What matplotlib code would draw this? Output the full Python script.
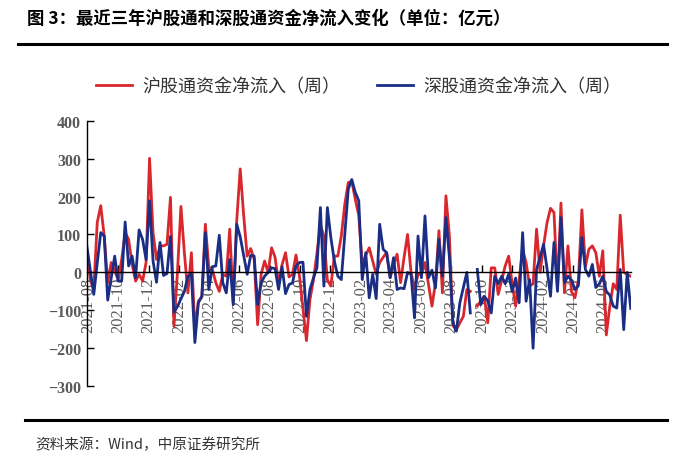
import numpy as np
import pandas as pd
import matplotlib
matplotlib.use("Agg")
import matplotlib.pyplot as plt
import matplotlib.dates as mdates
from matplotlib.lines import Line2D

plt.rcParams['font.family'] = ['Noto Sans CJK SC', 'DejaVu Sans']

# weekly net inflow, 100m yuan
start_date = '2021-07-30'
sh_flow = [60, -20, -45, 132, 176, 96, -27, 26, 4, -20,
           34, 105, 87, 21, -23, -5, -23, 26, 301, 105,
           34, 70, 70, 74, 198, -142, 0, 174, 50, -54,
           52, -150, -76, -65, 127, 12, 8, -27, -50, -5,
           -10, 114, -80, 136, 273, 150, 43, 63, 35, -138,
           -5, 30, 0, 65, 40, -30, 20, 52, -12, -5,
           46, -10, -94, -180, -72, -20, 50, 125, 96, -20,
           -36, 43, 43, 96, 180, 237, 240, 193, 150, 21,
           45, 65, 30, -5, 26, 40, 52, -14, 20, 48,
           -27, 40, 100, 0, -45, -5, -5, 26, -32, -89,
           -28, 110, -54, 202, 96, -140, -151, -133, -116, -45,
           -50, np.nan, -89, -75, -63, -133, 12, 12, -58, -20,
           17, 43, -30, -89, -20, 60, 26, -36, -30, 114,
           0, 70, 131, 169, 158, -45, 183, -54, 70, -50,
           -67, -20, 165, 15, 61, 70, 52, -10, 57, -165,
           -90, -30, -45, 151, 0, -5, -10]
sz_flow = [70, 5, -58, 25, 105, 96, -73, -15, 43, -23,
           -23, 133, 17, 43, -14, 112, 87, 34, 189, 30,
           -26, 79, -8, -3, 95, -105, -90, -70, -50, -10,
           -5, -185, -80, -63, 105, -45, 15, 17, 98, -27,
           -54, 34, -85, 127, 94, 45, -5, 45, 43, -85,
           -27, -10, 0, 12, 10, -45, 15, -56, -32, -28,
           17, 26, 27, -116, -45, -15, 12, 171, -36, 171,
           92, 30, -10, -19, 100, 220, 245, 211, 189, -19,
           52, -67, -5, -69, 127, 61, 52, -14, 39, -45,
           -41, -43, 0, -5, -120, 96, -14, 149, -14, 6,
           -41, 87, -10, 145, 40, -133, -155, -80, -40, 0,
           -107, np.nan, 8, -85, -63, -75, -107, -10, -30, -10,
           -30, -5, -50, -15, -80, 105, -76, -19, -200, 8,
           40, 74, 10, -63, 79, -50, 145, -27, -10, -20,
           -45, -35, 92, 8, -10, 21, -40, -30, -10, -50,
           -60, -89, -94, 8, -151, 0, -95]
labels = ['沪股通资金净流入（周）', '深股通资金净流入（周）']
title = '图 3：最近三年沪股通和深股通资金净流入变化（单位：亿元）'
source = '资料来源：Wind，中原证券研究所'

dates = pd.date_range(start_date, periods=len(sh_flow), freq='7D')

fig = plt.figure(figsize=(7, 4.56), dpi=100)
ax = fig.add_axes([0.124, 0.151, 0.777, 0.582])

ax.plot(dates, sh_flow, color='#D9272E', lw=2.0, label=labels[0])
ax.plot(dates, sz_flow, color='#1B2E85', lw=2.0, label=labels[1])

ax.set_ylim(-300, 400)
ax.set_yticks(range(-300, 401, 100))
ax.set_xlim(dates[0], dates[-1])
ax.xaxis.set_major_locator(mdates.MonthLocator(bymonth=[2, 4, 6, 8, 10, 12]))
ax.xaxis.set_major_formatter(mdates.DateFormatter('%Y-%m'))

ax.spines['top'].set_visible(False)
ax.spines['right'].set_visible(False)
ax.spines['bottom'].set_position(('data', 0))
ax.spines['bottom'].set_linewidth(1.0)
ax.spines['left'].set_linewidth(1.0)

ax.tick_params(axis='y', direction='in', length=5, width=1, pad=4)
ax.tick_params(axis='x', direction='in', length=5, width=1, pad=3)
for t in ax.get_yticklabels():
    t.set_family('Liberation Serif')
    t.set_fontweight('bold')
    t.set_fontsize(11.5)
    t.set_color('#595959')
for t in ax.get_xticklabels():
    t.set_family('Liberation Serif')
    t.set_fontsize(12)
    t.set_color('#595959')
    t.set_rotation(90)

leg = ax.legend(loc='lower center', bbox_to_anchor=(0.5, 1.035), ncol=2,
                frameon=False, fontsize=13, handlelength=2.0,
                columnspacing=2.0, handletextpad=0.6)
for t in leg.get_texts():
    t.set_color('#333333')

fig.text(0.038, 0.958, title, fontsize=12.5, fontweight='bold', va='center')
fig.add_artist(Line2D([0.026, 0.953], [0.901, 0.901], color='black', lw=2.2))
fig.add_artist(Line2D([0.036, 0.953], [0.077, 0.077], color='black', lw=2.2))
fig.text(0.05, 0.024, source, fontsize=10.5, color='#333333', va='center')

fig.savefig('out.png', dpi=100)
